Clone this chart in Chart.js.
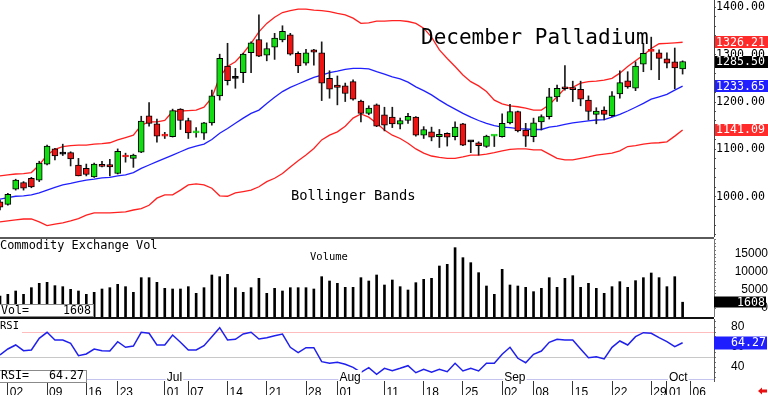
<!DOCTYPE html>
<html>
<head>
<meta charset="utf-8">
<title>December Palladium</title>
<script src="https://cdn.jsdelivr.net/npm/chart.js@4.4.1/dist/chart.umd.min.js"></script>
<style>
 html,body{margin:0;padding:0;background:#fff;width:768px;height:395px;overflow:hidden;}
 #wrap{position:relative;width:768px;height:395px;}
 canvas{position:absolute;left:0;display:block;}
 .t{position:absolute;white-space:pre;color:#000;font-family:"DejaVu Sans Mono",monospace;line-height:1;}
 .rule{position:absolute;left:0;width:714px;}
 .box{position:absolute;box-sizing:border-box;border:1px solid #8a8a8a;background:#fff;}
 .box span{position:absolute;font-family:"DejaVu Sans Mono",monospace;font-size:11.6px;line-height:1;white-space:pre;color:#000;}
</style>
</head>
<body>
<div id="wrap">
 <canvas id="cPrice" width="768" height="237" style="top:0"></canvas>
 <canvas id="cVol" width="768" height="78" style="top:239px"></canvas>
 <canvas id="cRsi" width="768" height="76" style="top:319px"></canvas>
 <div class="rule" style="top:237px;height:2px;background:#5a5a5a"></div>
 <div class="rule" style="top:317px;height:2px;background:#111"></div>
 <div class="t" style="left:421px;top:27px;font-size:21px">December Palladium</div>
 <div class="t" style="left:291px;top:189px;font-size:13.8px">Bollinger Bands</div>
 <div class="t" style="left:0;top:240px;font-size:11.9px">Commodity Exchange Vol</div>
 <div class="t" style="left:310px;top:251px;font-size:10.5px">Volume</div>
 <div class="t" style="left:0;top:320px;font-size:10.5px;height:13px;width:22px;background:#fff">RSI</div>
 <div class="box" style="left:-1px;top:304px;width:95px;height:13px"><span style="left:1px;top:0">Vol=</span><span id="volVal" style="right:2px;top:0"></span></div>
 <div class="box" style="left:-1px;top:370px;width:88px;height:13px"><span style="left:1px;top:-1px">RSI=</span><span id="rsiVal" style="right:2px;top:-1px"></span></div>
</div>
<script>
// ---- categories: trading days 2025 (MM-DD), last ones are empty future slots ----
const dates = ['05-30',
 '06-02','06-03','06-04','06-05','06-06','06-09','06-10','06-11','06-12','06-13','06-16','06-17','06-18','06-20','06-23','06-24','06-25','06-26','06-27','06-30',
 '07-01','07-02','07-03','07-07','07-08','07-09','07-10','07-11','07-14','07-15','07-16','07-17','07-18','07-21','07-22','07-23','07-24','07-25','07-28','07-29','07-30','07-31',
 '08-01','08-04','08-05','08-06','08-07','08-08','08-11','08-12','08-13','08-14','08-15','08-18','08-19','08-20','08-21','08-22','08-25','08-26','08-27','08-28','08-29',
 '09-02','09-03','09-04','09-05','09-08','09-09','09-10','09-11','09-12','09-15','09-16','09-17','09-18','09-19','09-22','09-23','09-24','09-25','09-26','09-29','09-30',
 '10-01','10-02','10-03','10-06','10-07','10-08','10-09'];

// ---- price series (OHLC) ----
const open  = [989,984,1016,1030,1039,1035,1069,1101,1090,1093,1067,1060,1042,1066,1068,1049,1085,1081,1094,1171,1154,1129,1127,1185,1161,1135,1134,1156,1213,1276,1250,1262,1304,1332,1299,1316,1331,1342,1303,1282,1310,1304,1250,1236,1234,1243,1202,1176,1194,1173,1168,1153,1161,1168,1130,1137,1127,1134,1127,1154,1116,1114,1106,1128,1127,1156,1180,1141,1127,1158,1169,1211,1230,1228,1227,1204,1174,1183,1171,1217,1245,1229,1280,1308,1304,1291,1285,1270];
const high  = [993,1007,1037,1032,1041,1075,1109,1102,1111,1095,1081,1069,1071,1075,1079,1101,1092,1090,1170,1199,1164,1136,1185,1186,1166,1146,1157,1225,1301,1324,1271,1303,1327,1384,1325,1345,1361,1345,1306,1311,1311,1327,1266,1255,1240,1247,1204,1192,1196,1189,1189,1166,1176,1169,1148,1147,1142,1135,1158,1155,1118,1116,1130,1130,1175,1195,1181,1155,1166,1173,1229,1236,1277,1244,1244,1213,1188,1190,1222,1266,1264,1285,1324,1337,1310,1304,1314,1287];
const low   = [972,982,1014,1014,1019,1032,1067,1078,1087,1065,1044,1044,1041,1063,1044,1048,1073,1062,1093,1149,1115,1123,1126,1142,1123,1126,1121,1151,1204,1236,1229,1241,1262,1296,1287,1290,1327,1299,1262,1278,1278,1203,1208,1194,1201,1204,1158,1173,1148,1139,1146,1143,1155,1128,1123,1118,1104,1107,1120,1108,1093,1088,1104,1106,1126,1154,1137,1106,1116,1141,1164,1201,1225,1201,1192,1162,1154,1162,1169,1208,1229,1224,1264,1268,1247,1272,1228,1259];
const close = [978,1005,1035,1018,1021,1071,1107,1086,1090,1080,1044,1047,1069,1064,1063,1096,1084,1088,1160,1155,1128,1128,1182,1161,1135,1136,1156,1213,1292,1245,1250,1301,1325,1297,1313,1335,1349,1301,1276,1304,1305,1240,1227,1231,1218,1206,1176,1187,1149,1151,1154,1161,1170,1130,1142,1126,1132,1126,1147,1109,1116,1108,1128,1129,1155,1180,1139,1128,1156,1169,1211,1229,1228,1226,1206,1180,1181,1174,1213,1241,1232,1276,1303,1307,1292,1282,1272,1285.5];

// ---- Bollinger bands ----
const bandUpper  = [1044,1046,1048,1049,1051,1067,1088,1100,1106,1108,1109,1109,1111,1112,1114,1120,1125,1130,1151,1158,1158,1161,1180,1181,1182,1183,1189,1209,1253,1275,1285,1303,1324,
 1348,1366,1379,1389,1393,1396,1396,1394,1393,1391,1387,1384,1377,1366,1367,1371,1371,1372,1372,1370,1366,1356,1337,1310,1292,1275,1257,1243,1234,1222,1204,1196,1192,
 1190,1187,1183,1183,1194,1211,1229,1231,1240,1243,1244,1246,1250,1261,1275,1287,1299,1313,1323,1324,1325,1326.21];
const bandMiddle = [995,998,1001,1002,1004,1008,1014,1020,1025,1028,1032,1035,1037,1040,1041,1044,1046,1051,1060,1067,1074,1081,1088,1095,1102,1107,1111,1121,1134,1144,1155,1166,1176,
 1183,1197,1210,1222,1231,1238,1245,1252,1257,1262,1265,1269,1271,1271,1270,1264,1259,1253,1249,1242,1232,1224,1215,1204,1194,1185,1176,1168,1161,1155,1150,1147,1146,
 1144,1143,1142,1142,1147,1149,1153,1156,1158,1160,1162,1163,1168,1174,1181,1189,1197,1206,1211,1216,1225,1233.65];
const bandLower  = [947,949,951,953,953,947,939,942,945,949,954,961,966,966,966,967,968,972,975,982,997,1004,1004,1014,1025,1027,1025,1018,1002,1001,1008,1011,1014,
 1021,1032,1039,1049,1063,1076,1088,1102,1120,1130,1137,1149,1166,1175,1168,1155,1141,1130,1123,1113,1101,1092,1086,1083,1081,1081,1084,1088,1088,1090,1093,1097,1100,
 1101,1101,1099,1099,1090,1081,1078,1078,1081,1084,1088,1090,1092,1097,1106,1108,1111,1113,1114,1116,1128,1141.09];

// ---- volume ----
const volume = [3333,3800,4722,3800,5648,6852,7130,6204,5926,5185,4722,3800,4352,5278,5648,6574,5926,4352,8426,8426,7130,5463,5278,5278,5926,4074,5648,9167,8704,9352,5648,4352,5648,8241,4074,5463,4722,5648,5648,5648,5278,8704,7500,6852,5741,5741,8426,7500,9167,
 6389,7778,5926,5000,7037,7963,8241,11667,12130,16759,13981,12593,9815,6111,3800,10741,6389,6111,5741,4537,5463,8426,5741,8241,8981,5741,6852,5463,4074,5926,7315,5741,7593,8426,9722,8426,5926,8704,1608];

// ---- RSI ----
const rsi = [52,58,62,56.3,57,68.7,74.7,67,67,63.7,51.3,53,58,56.3,56,65.3,59.7,61,74.7,73.7,62,62,72,64.7,57,57,61.3,70.3,79.3,67,67.7,73,74.7,68,69.3,71.3,73,59.7,54.3,59.3,59.3,45.3,43.7,44.7,42.7,39.7,34.7,39.3,32.7,38.7,
 36.3,38.7,41.3,34.3,37.7,34.7,37.7,35.3,43.7,36,38.7,36,43.7,43.7,52.7,59.7,48.7,44.3,52.7,56,64.7,67.7,67,67,58,49.3,50.3,48,59.7,66,62,70.3,74.3,73.7,69.3,65.3,60.3,64.27];
const rsiLevels = [75, 50];

// ---- tick labels ----
const priceTicks  = [1000,1100,1200,1300,1400];
const volumeTicks = [0,5000,10000,15000];
const rsiTicks    = [40,60,80];
const dateTicks    = ['06-02','06-09','06-16','06-23','07-01','07-07','07-14','07-21','07-28','08-01','08-11','08-18','08-25','09-02','09-08','09-15','09-22','09-29','10-01','10-06'];
const dateTickText = ['02','09','16','23','01','07','14','21','28','01','11','18','25','02','08','15','22','29','01','06'];
const monthTicks = ['07-01','08-01','09-02','10-01'];
const monthText  = ['Jul','Aug','Sep','Oct'];

// ================= drawing =================
Chart.defaults.font.family = '"DejaVu Sans Mono", monospace';
Chart.defaults.color = '#000';
const MONO = '"DejaVu Sans Mono", monospace';
const SANS = '"Liberation Sans", Arial, sans-serif';
const GREEN = '#12dc12', RED = '#ee1414', BAND_RED = '#ff2020', BAND_BLUE = '#2020ff';

const bodyFill = open.map((o,i) => close[i] > o ? GREEN : (close[i] < o ? RED : '#000'));
const bodyLine = open.map((o,i) => (close[i] !== o && Math.abs(close[i]-o) < 1.5) ? bodyFill[i] : '#000');

function stepTicks(from, to, step){ const a=[]; for(let v=from; v<=to; v+=step) a.push({value:v}); return a; }
function fitY(s){ s.width = 54; s.paddingTop = 0; s.paddingBottom = 0; }
const common = (scales) => ({
  responsive:false, maintainAspectRatio:false, animation:false, devicePixelRatio:1, events:[],
  layout:{padding:0}, plugins:{legend:{display:false}, tooltip:{enabled:false}}, scales
});
const hiddenX = {display:false, offset:false, grid:{offset:false}};

const pricePlugin = {
  id:'priceMarks',
  afterDraw(chart){
    const {ctx, scales:{y}} = chart;
    const marks = [
      {v: bandUpper[bandUpper.length-1], bg:'#ff2a2a'},
      {v: close[close.length-1], bg:'#000'},
      {v: bandMiddle[bandMiddle.length-1], bg:'#1f1fff'},
      {v: bandLower[bandLower.length-1], bg:'#ff2a2a'}
    ];
    ctx.save();
    ctx.font = '11.6px ' + MONO; ctx.textBaseline = 'middle'; ctx.textAlign = 'left';
    marks.forEach(m => {
      const py = y.getPixelForValue(m.v);
      ctx.fillStyle = m.bg; ctx.fillRect(y.left+1, Math.round(py)-6, 53, 12);
      ctx.fillStyle = '#fff'; ctx.fillText(m.v.toFixed(2), y.left+2, py+0.5);
    });
    ctx.restore();
  }
};

new Chart(document.getElementById('cPrice'), {
  type:'bar',
  data:{ labels:dates, datasets:[
    {type:'line', data:bandUpper,  borderColor:BAND_RED,  borderWidth:1.3, pointRadius:0, tension:0, order:3},
    {type:'line', data:bandMiddle, borderColor:BAND_BLUE, borderWidth:1.3, pointRadius:0, tension:0, order:3},
    {type:'line', data:bandLower,  borderColor:BAND_RED,  borderWidth:1.3, pointRadius:0, tension:0, order:3},
    {data: low.map((l,i) => [l, high[i]]), backgroundColor:'#1a1a1a', barThickness:1, grouped:false, order:2},
    {data: open.map((o,i) => [o, close[i]]), backgroundColor:bodyFill, borderColor:bodyLine, borderWidth:1,
     borderSkipped:false, barThickness:6, minBarLength:2, grouped:false, order:1}
  ]},
  options: common({
    x: hiddenX,
    y: {position:'right', min:915, max:1415.4,
        afterBuildTicks: s => { s.ticks = stepTicks(920, 1400, 20); },
        afterFit: fitY,
        ticks:{autoSkip:false, padding:0, crossAlign:'near', font:{family:MONO, size:11.6},
               callback: v => priceTicks.includes(v) ? v.toFixed(2) : ''},
        grid:{drawOnChartArea:false, tickLength:2, color:'#555'},
        border:{color:'#444'}}
  }),
  plugins:[pricePlugin]
});

const volPlugin = {
  id:'volMark',
  afterDraw(chart){
    const {ctx, scales:{y}} = chart;
    const v = volume[volume.length-1];
    const py = y.getPixelForValue(v);
    ctx.save();
    ctx.fillStyle = '#000'; ctx.fillRect(y.left, Math.round(py)-5.5, 52, 11);
    ctx.fillStyle = '#fff'; ctx.font = '11.6px ' + MONO; ctx.textAlign = 'right'; ctx.textBaseline = 'middle';
    ctx.fillText(String(v), 765, py+0.5);
    ctx.restore();
  }
};

new Chart(document.getElementById('cVol'), {
  type:'bar',
  data:{ labels:dates, datasets:[{data:volume, backgroundColor:'#000', barThickness:2, base:-2500, grouped:false}] },
  options: common({
    x: hiddenX,
    y: {position:'right', min:-2500, max:19167,
        afterBuildTicks: s => { s.ticks = stepTicks(0, 19000, 1000); },
        afterFit: fitY,
        ticks:{autoSkip:false, crossAlign:'far', padding:14.6, font:{family:SANS, size:12},
               callback: v => volumeTicks.includes(v) ? String(v) : ''},
        grid:{drawOnChartArea:false, tickLength:2, color:'#777'},
        border:{color:'#777'}}
  }),
  plugins:[volPlugin]
});

const rsiPlugin = {
  id:'rsiDeco',
  beforeDatasetsDraw(chart){
    const {ctx, chartArea:a, scales:{y}} = chart;
    ctx.save(); ctx.lineWidth = 1;
    rsiLevels.forEach((lv, j) => {
      const py = Math.round(y.getPixelForValue(lv)) + 0.5;
      ctx.strokeStyle = j === 0 ? '#ffbcbc' : '#c8c8c8';
      ctx.beginPath(); ctx.moveTo(a.left, py); ctx.lineTo(a.right, py); ctx.stroke();
    });
    ctx.strokeStyle = '#c4c4ee';
    ctx.beginPath(); ctx.moveTo(a.left, a.bottom-1.5); ctx.lineTo(a.right, a.bottom-1.5); ctx.stroke();
    ctx.restore();
  },
  afterDraw(chart){
    const {ctx, chartArea:a, scales:{x, y}} = chart;
    ctx.save();
    ctx.font = '12px ' + SANS; ctx.textAlign = 'left'; ctx.textBaseline = 'alphabetic';
    monthTicks.forEach((d, j) => {
      const px = x.getPixelForValue(dates.indexOf(d)) + 2;
      const w = ctx.measureText(monthText[j]).width;
      ctx.fillStyle = '#fff'; ctx.fillRect(px-1, a.bottom-11, w+2, 10);
      ctx.fillStyle = '#000'; ctx.fillText(monthText[j], px, a.bottom-0.5);
    });
    const last = rsi[rsi.length-1];
    const py = y.getPixelForValue(last);
    ctx.fillStyle = '#1e1eff'; ctx.fillRect(y.left, Math.round(py)-6.5, 53, 13);
    ctx.fillStyle = '#fff'; ctx.font = '11.6px ' + MONO; ctx.textBaseline = 'middle';
    ctx.fillText(last.toFixed(2), y.left+17, py+0.5);
    // small red arrow (corner marker)
    ctx.fillStyle = '#e81010';
    ctx.beginPath(); ctx.moveTo(758,72); ctx.lineTo(762,68.5); ctx.lineTo(762,70.5); ctx.lineTo(767,70.5);
    ctx.lineTo(767,73.5); ctx.lineTo(762,73.5); ctx.lineTo(762,75.5); ctx.closePath(); ctx.fill();
    ctx.restore();
  }
};

new Chart(document.getElementById('cRsi'), {
  type:'line',
  data:{ labels:dates, datasets:[{data:rsi, borderColor:'#2020ee', borderWidth:1.5, pointRadius:0, tension:0}] },
  options: common({
    x: {position:'bottom', offset:false,
        afterFit: s => { s.height = 14; s.paddingLeft = 0; s.paddingRight = 0; },
        border:{display:false},
        grid:{offset:false, drawOnChartArea:false, tickLength:14,
              tickColor: c => dateTicks.includes(dates[c.index]) ? '#333' : 'rgba(0,0,0,0)'},
        ticks:{autoSkip:false, maxRotation:0, minRotation:0, align:'start', labelOffset:2, padding:-10,
               font:{family:SANS, size:12},
               callback: (v, i) => { const k = dateTicks.indexOf(dates[i]); return k >= 0 ? dateTickText[k] : ''; }}},
    y: {position:'right', min:26, max:88,
        afterBuildTicks: s => { s.ticks = stepTicks(30, 85, 5); },
        afterFit: fitY,
        ticks:{autoSkip:false, crossAlign:'near', padding:15, font:{family:SANS, size:12},
               callback: v => rsiTicks.includes(v) ? String(v) : ''},
        grid:{drawOnChartArea:false, tickLength:2, color:'#777'},
        border:{color:'#555'}}
  }),
  plugins:[rsiPlugin]
});

document.getElementById('volVal').textContent = String(volume[volume.length-1]);
document.getElementById('rsiVal').textContent = rsi[rsi.length-1].toFixed(2);
</script>
</body>
</html>
